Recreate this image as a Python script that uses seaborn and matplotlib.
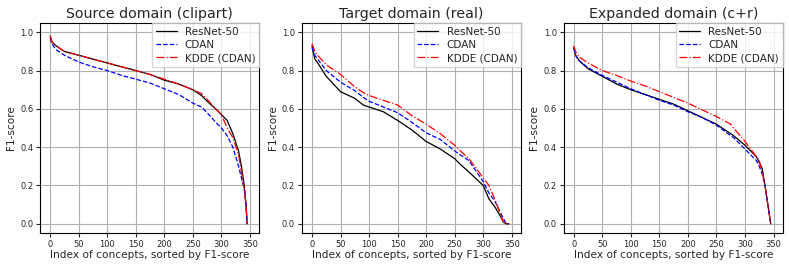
import matplotlib
matplotlib.use("Agg")
import matplotlib.pyplot as plt
import seaborn as sns
import pandas as pd

src_x = [0, 3, 10, 25, 50, 75, 100, 125, 150, 175, 200, 225, 250, 265, 275, 290, 300, 310, 320, 330, 335, 340, 343, 345]
src_resnet = [0.98, 0.95, 0.93, 0.90, 0.88, 0.86, 0.84, 0.82, 0.80, 0.78, 0.75, 0.73, 0.70, 0.67, 0.64, 0.60, 0.57, 0.54, 0.47, 0.38, 0.30, 0.20, 0.10, 0.0]
src_cdan = [0.97, 0.94, 0.91, 0.88, 0.845, 0.82, 0.80, 0.775, 0.755, 0.735, 0.705, 0.675, 0.63, 0.61, 0.58, 0.53, 0.50, 0.46, 0.40, 0.30, 0.24, 0.18, 0.10, 0.0]
src_kdde = [0.98, 0.95, 0.93, 0.90, 0.88, 0.86, 0.84, 0.82, 0.80, 0.78, 0.755, 0.73, 0.70, 0.68, 0.65, 0.60, 0.57, 0.50, 0.45, 0.36, 0.27, 0.18, 0.10, 0.0]

tgt_x = [0, 5, 10, 25, 50, 75, 90, 100, 125, 150, 175, 200, 225, 250, 260, 275, 300, 310, 320, 330, 335, 340, 345]
tgt_resnet = [0.93, 0.86, 0.84, 0.77, 0.69, 0.655, 0.62, 0.61, 0.585, 0.54, 0.49, 0.43, 0.39, 0.34, 0.31, 0.27, 0.20, 0.13, 0.09, 0.04, 0.01, 0.0, 0.0]
tgt_cdan = [0.92, 0.88, 0.86, 0.80, 0.74, 0.695, 0.66, 0.64, 0.61, 0.58, 0.53, 0.475, 0.44, 0.38, 0.36, 0.33, 0.22, 0.16, 0.12, 0.06, 0.03, 0.0, 0.0]
tgt_kdde = [0.94, 0.90, 0.88, 0.83, 0.78, 0.715, 0.685, 0.67, 0.645, 0.62, 0.565, 0.52, 0.47, 0.41, 0.38, 0.34, 0.24, 0.20, 0.13, 0.05, 0.01, 0.0, 0.0]

exp_x = [0, 3, 10, 25, 50, 75, 100, 125, 150, 175, 200, 225, 250, 275, 280, 300, 310, 320, 325, 330, 335, 340, 345]
exp_resnet = [0.92, 0.88, 0.85, 0.81, 0.77, 0.73, 0.70, 0.675, 0.65, 0.625, 0.59, 0.555, 0.52, 0.47, 0.46, 0.41, 0.38, 0.35, 0.32, 0.29, 0.20, 0.10, 0.0]
exp_cdan = [0.92, 0.88, 0.85, 0.815, 0.775, 0.74, 0.705, 0.675, 0.645, 0.62, 0.585, 0.555, 0.515, 0.46, 0.45, 0.39, 0.36, 0.33, 0.30, 0.26, 0.20, 0.10, 0.0]
exp_kdde = [0.93, 0.90, 0.87, 0.84, 0.80, 0.775, 0.745, 0.72, 0.69, 0.66, 0.63, 0.595, 0.56, 0.52, 0.50, 0.43, 0.39, 0.35, 0.33, 0.27, 0.20, 0.10, 0.0]

titles = ["Source domain (clipart)", "Target domain (real)", "Expanded domain (c+r)"]
methods = ["ResNet-50", "CDAN", "KDDE (CDAN)"]

panels = [
    (src_x, [src_resnet, src_cdan, src_kdde]),
    (tgt_x, [tgt_resnet, tgt_cdan, tgt_kdde]),
    (exp_x, [exp_resnet, exp_cdan, exp_kdde]),
]

colors = {"ResNet-50": "black", "CDAN": "blue", "KDDE (CDAN)": "red"}
styles = {"ResNet-50": "-", "CDAN": "--", "KDDE (CDAN)": "-."}

sns.set_theme(style="ticks", rc={"axes.grid": True, "grid.color": "#b0b0b0",
                                 "grid.linewidth": 0.8, "axes.edgecolor": "black"})
plt.rcParams["font.family"] = ["DejaVu Sans"]

fig, axes = plt.subplots(1, 3, figsize=(7.89, 2.69), dpi=100)

for ax, title, (xs, ys) in zip(axes, titles, panels):
    for name, vals in zip(methods, ys):
        df = pd.DataFrame({"idx": xs, "f1": vals})
        sns.lineplot(data=df, x="idx", y="f1", ax=ax, color=colors[name],
                     linestyle=styles[name], linewidth=0.9, label=name)
    ax.set_title(title, fontsize=10.2, pad=4)
    ax.set_xlabel("Index of concepts, sorted by F1-score", fontsize=7.6, labelpad=1)
    ax.set_ylabel("F1-score", fontsize=7.6, labelpad=3)
    ax.set_xticks([0, 50, 100, 150, 200, 250, 300, 350])
    ax.set_yticks([0.0, 0.2, 0.4, 0.6, 0.8, 1.0])
    ax.set_xlim(-17.5, 366)
    ax.set_ylim(-0.048, 1.048)
    ax.tick_params(labelsize=6, length=3, width=0.8, pad=2)
    for s in ax.spines.values():
        s.set_linewidth(0.8)
    leg = ax.legend(loc="upper right", fontsize=7.5, frameon=True, borderaxespad=0.0,
                    handlelength=2.0, labelspacing=0.3, borderpad=0.35, fancybox=False)
    leg.get_frame().set_edgecolor("#cccccc")
    leg.get_frame().set_alpha(0.8)

fig.subplots_adjust(left=0.051, right=0.992, top=0.914, bottom=0.134, wspace=0.196)
fig.savefig("out.png", dpi=100)
